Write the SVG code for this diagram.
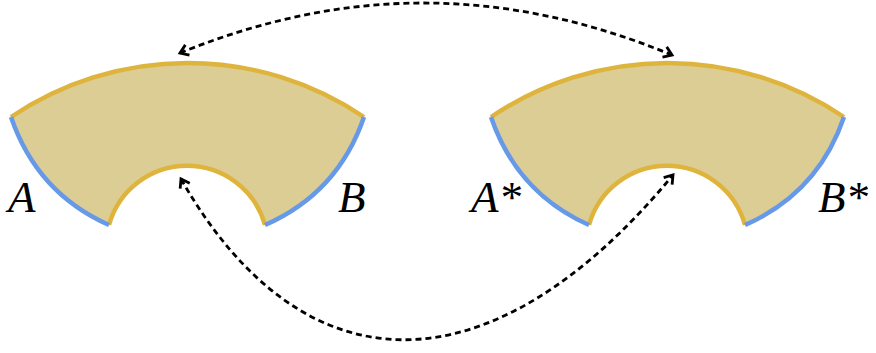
<svg xmlns="http://www.w3.org/2000/svg" width="876" height="353" viewBox="0 0 876 353">
<style>
.fill{fill:#dccd94;stroke:none}
.gold{fill:none;stroke:#dfb43d;stroke-width:4.5}
.blue{fill:none;stroke:#6699e8;stroke-width:4.5}
.lbl{font-family:"Liberation Serif","Times New Roman","DejaVu Serif",serif;font-style:italic;font-size:45px;fill:#000}
.dash{fill:none;stroke:#000;stroke-width:2.8;stroke-dasharray:6 4}
</style>
<defs>
<marker id="arr" markerUnits="userSpaceOnUse" markerWidth="20" markerHeight="20" viewBox="-10 -10 20 20" refX="0" refY="0" orient="auto-start-reverse">
<path d="M-8,-5.5 L0,0 L-8,5.5" fill="none" stroke="#000" stroke-width="2.8" stroke-dasharray="none"/>
</marker>
<g id="sector">
<path class="fill" d="M11,117 A315,315 0 0 1 364,117 Q338,193 265,225 A81,81 0 0 0 109,225 Q37,193 11,117 Z"/>
<path class="gold" d="M11,117 A315,315 0 0 1 364,117"/>
<path class="gold" d="M265,225 A81,81 0 0 0 109,225"/>
<path class="blue" d="M11,117 Q37,193 109,225"/>
<path class="blue" d="M364,117 Q338,193 265,225"/>
</g>
</defs>
<g id="shapeA">
<use href="#sector"/>
<text class="lbl" x="8" y="212">A</text>
<text class="lbl" x="338" y="212">B</text>
</g>
<g id="shapeAstar">
<use href="#sector" transform="translate(480,0)"/>
<text class="lbl" x="471" y="212">A*</text>
<text class="lbl" x="818" y="212">B*</text>
</g>
<g id="connectors">
<path class="dash" d="M180,53 C345,-14 505,-14 672,55" marker-start="url(#arr)" marker-end="url(#arr)"/>
<path class="dash" d="M181,179 C303,393 491,395 673,175" marker-start="url(#arr)" marker-end="url(#arr)"/>
</g>
</svg>
